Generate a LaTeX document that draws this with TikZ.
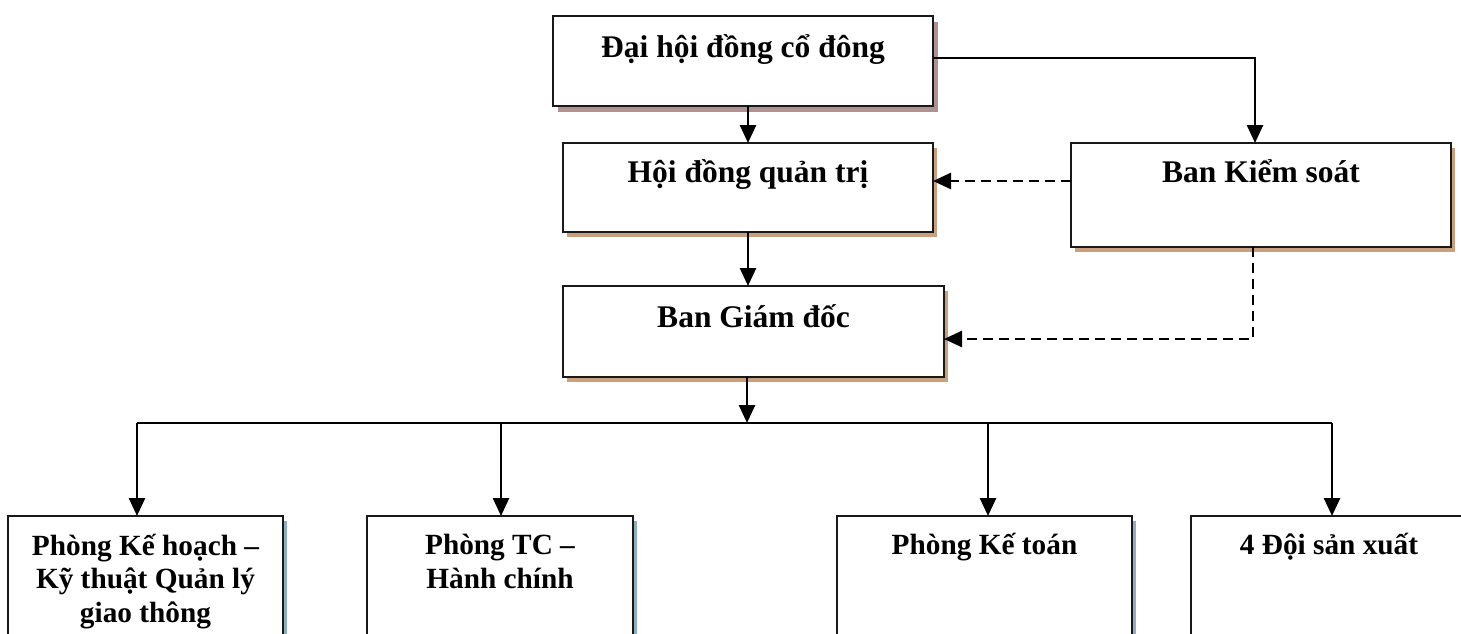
\documentclass[tikz,border=0pt]{standalone}
\usepackage{fontspec}
\setmainfont{Liberation Serif}
\usetikzlibrary{arrows.meta,shadows}
\definecolor{shpink}{HTML}{B09090}
\definecolor{shtan}{HTML}{C8A07E}
\definecolor{shblue}{HTML}{8FAFBF}
\begin{document}
\begin{tikzpicture}[x=1pt,y=-1pt,
  box/.style={draw=black!90, line width=1.8pt, fill=white, inner sep=0pt, outer sep=0pt, anchor=north west},
  tanbox/.style={box, drop shadow={shadow xshift=4pt, shadow yshift=-5pt, fill=shtan, opacity=1}},
  pinkbox/.style={box, drop shadow={shadow xshift=5pt, shadow yshift=-6pt, fill=shpink, opacity=1}},
  bluebox/.style={box, drop shadow={shadow xshift=4pt, shadow yshift=-5pt, fill=shblue, opacity=1}},
  toptxt/.style={font=\fontsize{31.5}{36}\selectfont\bfseries, inner sep=0pt, anchor=base},
  bottxt/.style={font=\fontsize{29.3}{33.3}\selectfont\bfseries, inner sep=0pt, anchor=base, align=center},
  arr/.style={line width=2.6pt, -{Triangle[length=18pt,width=16pt]}},
  dsh/.style={line width=2.6pt, dash pattern=on 10pt off 6pt, -{Triangle[length=18pt,width=16pt]}},
  bar/.style={line width=2.6pt}]
\useasboundingbox (0,0) rectangle (1461,634);
% boxes
\node[pinkbox, minimum width=380pt, minimum height=90pt] (dh) at (553,16) {};
\node[tanbox, minimum width=370pt, minimum height=89pt] (hd) at (563,143) {};
\node[tanbox, minimum width=380pt, minimum height=104pt] (bks) at (1071,143) {};
\node[tanbox, minimum width=381pt, minimum height=91pt] (bgd) at (563,286) {};
\node[bluebox, minimum width=275pt, minimum height=150pt] (p1) at (8,516) {};
\node[bluebox, minimum width=266pt, minimum height=150pt] (p2) at (367,516) {};
\node[bluebox, minimum width=295pt, minimum height=150pt] (p3) at (837,516) {};
\node[box, minimum width=280pt, minimum height=150pt] (p4) at (1191,516) {};
% texts
\node[toptxt] (dht) at ([yshift=-41pt]dh.north) {Đại hội đồng cổ đông};
\node[toptxt] (hdt) at ([yshift=-39pt]hd.north) {Hội đồng quản trị};
\node[toptxt] (bkst) at ([yshift=-39pt]bks.north) {Ban Kiểm soát};
\node[toptxt] (bgdt) at ([yshift=-41pt]bgd.north) {Ban Giám đốc};
\node[bottxt] (p1t) at ([yshift=-106pt]p1.north) {Phòng Kế hoạch –\\Kỹ thuật Quản lý\\giao thông};
\node[bottxt] (p2t) at ([yshift=-72pt]p2.north) {Phòng TC –\\Hành chính};
\node[bottxt] (p3t) at ([yshift=-38pt]p3.north) {Phòng Kế toán};
\node[bottxt] (p4t) at ([xshift=-2pt,yshift=-38pt]p4.north) {4 Đội sản xuất};
% coordinates
\coordinate (bus) at (747,423);
\coordinate (bl) at (137,423);
\coordinate (b2) at (501,423);
\coordinate (b3) at (988,423);
\coordinate (br) at (1332,423);
\coordinate (kc) at (1253,339);
% connectors
\draw[arr] ([yshift=3pt]dh.east) -| ([xshift=-6pt]bks.north);
\draw[arr] (dh.south -| hd.north) -- (hd.north);
\draw[arr] (hd.south) -- (hd.south |- bgd.north);
\draw[arr] (bgd.south -| bus) -- (bus);
\draw[bar] (bl) -- (br);
\draw[arr] (bl) -- (bl |- p1.north);
\draw[arr] (b2) -- (b2 |- p2.north);
\draw[arr] (b3) -- (b3 |- p3.north);
\draw[arr] (br) -- (br |- p4.north);
\draw[dsh] ([yshift=14pt]bks.west) -- ([yshift=14pt]bks.west -| hd.east);
\draw[dsh] (kc |- bks.south) -- (kc) -- (kc -| bgd.east);
\end{tikzpicture}
\end{document}
